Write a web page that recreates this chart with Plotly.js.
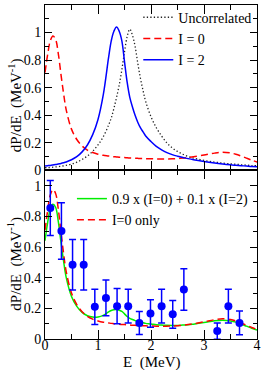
<!DOCTYPE html>
<html>
<head>
<meta charset="utf-8">
<script src="https://cdn.plot.ly/plotly-3.0.1.min.js"></script>
<style>html,body{margin:0;padding:0;background:#fff;}#chart{width:262px;height:370px;}</style>
</head>
<body>
<div id="chart"></div>
<script>
var energy = [0,0.05,0.1,0.15,0.2,0.25,0.3,0.35,0.4,0.5,0.6,0.7,0.8,0.9,1.0,1.1,1.2,1.25,1.3,1.35,1.4,1.45,1.5,1.55,1.6,1.65,1.7,1.75,1.8,1.85,1.9,2.0,2.1,2.2,2.3,2.4,2.5,2.6,2.7,2.8,3.0,3.2,3.35,3.5,3.6,3.7,3.8,3.9,4.0];
var uncorrelated = [0.02,0.021,0.022,0.024,0.026,0.028,0.031,0.034,0.038,0.047,0.06,0.08,0.105,0.14,0.185,0.245,0.33,0.38,0.45,0.53,0.62,0.73,0.86,0.97,1.025,0.98,0.9,0.78,0.67,0.58,0.5,0.39,0.31,0.25,0.2,0.165,0.138,0.118,0.102,0.09,0.073,0.061,0.054,0.048,0.045,0.042,0.039,0.036,0.034];
var isospin0 = [0.71,0.84,0.94,0.975,0.95,0.85,0.7,0.56,0.44,0.3,0.225,0.178,0.148,0.13,0.118,0.11,0.105,0.102,0.1,0.098,0.096,0.095,0.094,0.092,0.091,0.09,0.089,0.088,0.087,0.087,0.086,0.085,0.084,0.084,0.084,0.085,0.087,0.09,0.094,0.099,0.112,0.126,0.132,0.127,0.118,0.105,0.09,0.075,0.062];
var isospin2 = [0.033,0.035,0.037,0.04,0.043,0.047,0.051,0.056,0.062,0.078,0.1,0.135,0.185,0.26,0.37,0.55,0.82,0.94,1.01,1.04,1.01,0.94,0.79,0.64,0.53,0.46,0.4,0.35,0.31,0.28,0.25,0.21,0.175,0.15,0.13,0.115,0.104,0.095,0.086,0.078,0.065,0.054,0.047,0.041,0.038,0.035,0.032,0.029,0.027];
var mixture = [0.642,0.76,0.85,0.88,0.86,0.77,0.635,0.51,0.402,0.278,0.213,0.174,0.152,0.143,0.143,0.154,0.177,0.186,0.191,0.192,0.187,0.18,0.164,0.147,0.135,0.127,0.12,0.114,0.109,0.106,0.102,0.098,0.093,0.091,0.089,0.088,0.088,0.091,0.093,0.097,0.107,0.119,0.123,0.118,0.11,0.098,0.084,0.07,0.058];
var dataE = [0.1,0.31,0.52,0.73,0.94,1.15,1.36,1.57,1.78,1.99,2.2,2.41,2.62,3.25,3.46,3.67];
var dataP = [0.855,0.705,0.485,0.485,0.21,0.268,0.214,0.214,0.105,0.166,0.214,0.161,0.323,0.052,0.214,0.105];
var dataErr = [0.18,0.185,0.165,0.165,0.115,0.117,0.115,0.11,0.075,0.09,0.11,0.09,0.135,0.053,0.11,0.078];
var yTicks = [0,0.2,0.4,0.6,0.8,1];
var yTickText = ['0','0.2','0.4','0.6','0.8','1'];
var xTicks = [0,1,2,3,4];
var yTitle = 'dP/dE  (MeV<sup>-1</sup>)';
var xTitle = 'E  (MeV)';

var serif = 'Liberation Serif, Times New Roman, serif';
var traces = [
  {x: energy, y: uncorrelated, xaxis:'x2', yaxis:'y2', mode:'lines', name:'Uncorrelated', legend:'legend',
   line:{color:'#222222', width:1.3, dash:'1.3px,2.2px', shape:'spline'}},
  {x: energy, y: isospin0, xaxis:'x2', yaxis:'y2', mode:'lines', name:'I = 0', legend:'legend',
   line:{color:'#ff0000', width:1.5, dash:'7px,4px', shape:'spline'}},
  {x: energy, y: isospin2, xaxis:'x2', yaxis:'y2', mode:'lines', name:'I = 2', legend:'legend',
   line:{color:'#0000ff', width:1.5, shape:'spline'}},
  {x: energy, y: mixture, xaxis:'x', yaxis:'y', mode:'lines', name:'0.9 x (I=0) + 0.1 x (I=2)', legend:'legend2',
   line:{color:'#00ee00', width:1.5, shape:'spline'}},
  {x: energy, y: isospin0, xaxis:'x', yaxis:'y', mode:'lines', name:'I=0 only', legend:'legend2',
   line:{color:'#ff0000', width:1.5, dash:'7px,4px', shape:'spline'}},
  {x: dataE, y: dataP, xaxis:'x', yaxis:'y', mode:'markers', showlegend:false,
   marker:{color:'#0000ff', size:8},
   error_y:{type:'data', array:dataErr, visible:true, color:'#0000ff', thickness:1.5, width:3.5}}
];

function yax(domain, range){
  return {domain:domain, range:range, tickvals:yTicks, ticktext:yTickText, ticks:'inside', ticklen:7, tickwidth:1,
    tickcolor:'#000', minor:{dtick:0.1, ticklen:4, ticks:'inside', tickcolor:'#000'},
    showline:true, linecolor:'#000', linewidth:1, mirror:'ticks', showgrid:false, zeroline:false,
    tickfont:{family:serif, size:14, color:'#000'}};
}
function xax(anchor, labels){
  return {anchor:anchor, domain:[0,1], range:[0,4], tickvals:xTicks, ticks:'inside', ticklen:9, tickwidth:1,
    tickcolor:'#000', minor:{dtick:0.5, ticklen:5, ticks:'inside', tickcolor:'#000'},
    showline:true, linecolor:'#000', linewidth:1, mirror:'ticks', showgrid:false, zeroline:false,
    showticklabels:labels, tickfont:{family:serif, size:14, color:'#000'}};
}
var xBottom = xax('y', true);
xBottom.ticklabelstandoff = -7;
var titleFont = {family:serif, size:15, color:'#000'};
var layout = {
  width:262, height:370, margin:{l:45, r:5, t:2, b:31},
  paper_bgcolor:'#fff', plot_bgcolor:'#fff', showlegend:true,
  xaxis: xBottom,
  xaxis2: xax('y2', false),
  yaxis: yax([0,0.5045],[0,1.1]),
  yaxis2: yax([0.5045,1],[0,1.2]),
  legend:{x:0.44, y:1.01, xanchor:'left', yanchor:'top', bgcolor:'rgba(0,0,0,0)', itemwidth:30,
    font:{family:serif, size:14, color:'#000'}, tracegroupgap:0},
  legend2:{x:0.127, y:0.467, xanchor:'left', yanchor:'top', bgcolor:'rgba(0,0,0,0)', itemwidth:30,
    font:{family:serif, size:14, color:'#000'}, tracegroupgap:0},
  annotations:[
    {text:yTitle, textangle:-90, xref:'paper', yref:'y2 domain', x:0, y:0.395, xshift:-30,
     xanchor:'center', yanchor:'middle', showarrow:false, font:titleFont},
    {text:yTitle, textangle:-90, xref:'paper', yref:'y domain', x:0, y:0.447, xshift:-30,
     xanchor:'center', yanchor:'middle', showarrow:false, font:titleFont},
    {text:xTitle, xref:'paper', yref:'paper', x:0.5, y:0, yshift:-13,
     xanchor:'center', yanchor:'top', showarrow:false, font:titleFont}
  ]
};
Plotly.newPlot('chart', traces, layout, {staticPlot:true, displayModeBar:false});
</script>
</body>
</html>
